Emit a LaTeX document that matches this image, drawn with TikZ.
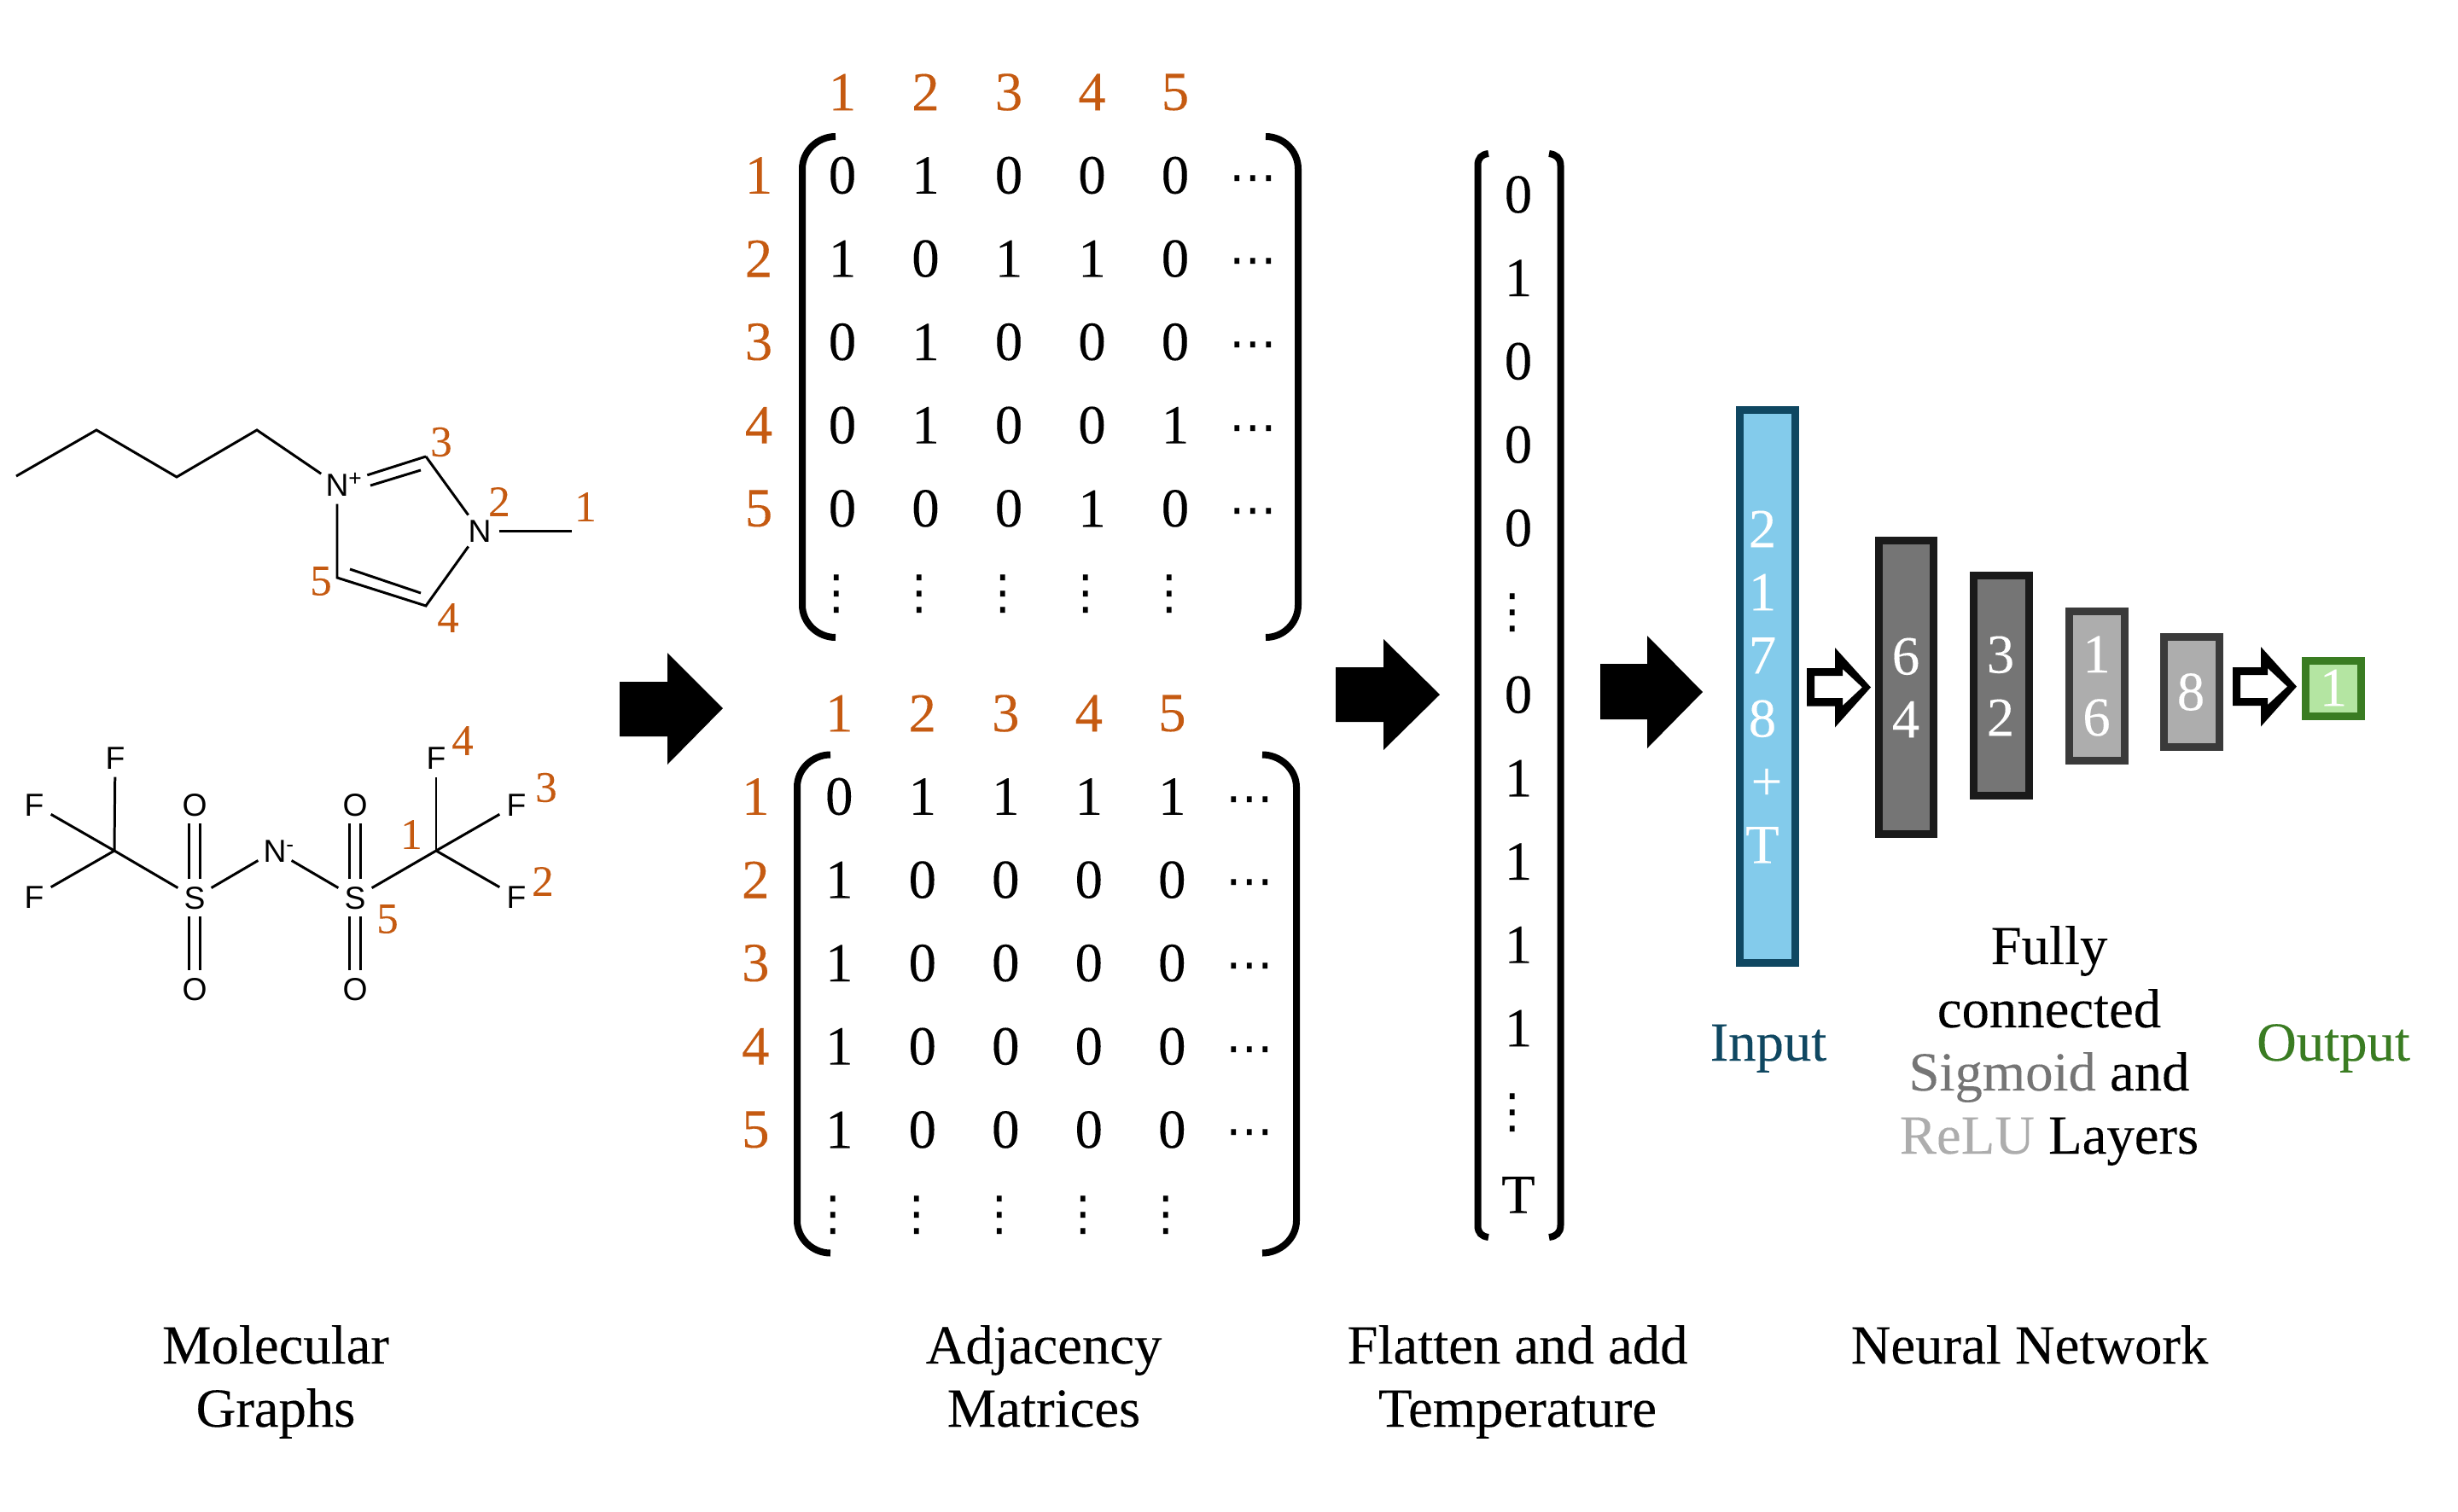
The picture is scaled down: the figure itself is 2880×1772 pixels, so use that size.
\documentclass[tikz,border=0pt]{standalone}
\usepackage{fontspec}
\setmainfont{Liberation Serif}[FakeBold=0.12]
\newfontfamily\atomfont{Liberation Sans}
\newfontfamily\dotfont{DejaVu Sans}
\definecolor{numor}{HTML}{C55A11}
\definecolor{inblue}{HTML}{0F4761}
\definecolor{infill}{HTML}{83CBEB}
\definecolor{outgreen}{HTML}{3A7C22}
\definecolor{outfill}{HTML}{B4E5A2}
\definecolor{sigfill}{HTML}{757575}
\definecolor{sigline}{HTML}{1A1A1A}
\definecolor{relufill}{HTML}{ADADAD}
\definecolor{reluline}{HTML}{3A3A3A}
\newcommand{\atomtxt}[1]{\smash{\makebox[0pt]{\raisebox{-0.358em}{#1}}}}
\tikzset{
  x=0.01cm,y=-0.01cm,
  big/.style={inner sep=0pt,font=\fontsize{18.4}{21.05}\selectfont},
  cell/.style={big,text=black},
  idx/.style={big,text=numor},
  small/.style={inner sep=0pt,text=numor,font=\fontsize{14.5}{16}\selectfont},
  atom/.style={circle,inner sep=0pt,minimum size=0.44cm,font=\atomfont\fontsize{10.6}{12}\selectfont},
  bond/.style={line width=0.85pt,draw=black},
  brack/.style={line width=0.08cm,draw=black},
  title/.style={big,align=center,anchor=base},
  nn/.style 2 args={rectangle,inner sep=0pt,fill=#1,draw=#2,line width=0.09cm},
  white num/.style={big,text=white,align=center},
  hdots/.style={inner sep=0pt,font=\dotfont\fontsize{15.8}{16}\selectfont},
  block/.style={fill=black},
}
\newcommand{\adjmat}[2]{%
  \foreach \c in {1,...,5}{
    \node[idx] (#1top\c) at ({987+97.5*(\c-1)},108) {\c};
    \node[idx] (#1left\c) at (889,{205.5+97.6*(\c-1)}) {\c};
    \node[hdots] (#1cd\c) at (1468,{216+97.6*(\c-1)}) {⋯};
    \node[hdots] (#1vd\c) at ({980+97.5*(\c-1)},696) {⋮};
  }
  \foreach \row [count=\r] in {#2}{
    \foreach \v [count=\c] in \row {
      \node[cell] (#1r\r c\c) at ({987+97.5*(\c-1)},{205.5+97.6*(\r-1)}) {\v};
    }
  }
}
% x of left stroke, x of its ends, x of right ends, x of right stroke, y top, y bottom
\newcommand{\matbrackets}[6]{%
  \draw[brack] (#2,#5) .. controls ({#2-21},#5) and (#1,{#5+17}) .. (#1,{#5+38}) -- (#1,{#6-38}) .. controls (#1,{#6-17}) and ({#2-21},#6) .. (#2,#6);
  \draw[brack] (#3,#5) .. controls ({#3+21},#5) and (#4,{#5+17}) .. (#4,{#5+38}) -- (#4,{#6-38}) .. controls (#4,{#6-17}) and ({#3+21},#6) .. (#3,#6);
}
\begin{document}
\begin{tikzpicture}
\useasboundingbox (0,0) rectangle (2880,1772);

% cation
\coordinate (a1) at (19,558);
\coordinate (a2) at (113,504);
\coordinate (a3) at (207,559);
\coordinate (a4) at (301,504);
\node[atom] (Np) at (395,568) {\atomtxt{N\rlap{\raisebox{0.32em}{\fontsize{7.5}{8}\selectfont +}}}};
\coordinate (c3) at (499,535);
\node[atom] (Nm) at (562,622) {\atomtxt{N}};
\coordinate (me) at (670,622);
\coordinate (c4) at (499,710);
\coordinate (c5) at (395,677);
\coordinate (i1) at (434,569);
\coordinate (i2) at (493,551);
\coordinate (i3) at (493,695);
\coordinate (i4) at (410,667);
\draw[bond,line join=miter] (a1) -- (a2) -- (a3) -- (a4) -- (Np);
\draw[bond,shorten <=0.37cm] (Np.center) -- (c3);
\draw[bond] (i1) -- (i2);
\draw[bond] (c3) -- (Nm);
\draw[bond] (Nm) -- (me);
\draw[bond] (Nm) -- (c4) -- (c5) -- (Np);
\draw[bond] (i3) -- (i4);
\node[small] (nc1) at (686,594) {1};
\node[small] (nc2) at (585,588) {2};
\node[small] (nc3) at (517,518) {3};
\node[small] (nc4) at (525,724) {4};
\node[small] (nc5) at (376,681) {5};

% anion
\node[atom] (Ft) at (135,888) {\atomtxt{F}};
\node[atom] (Fl) at (40,943) {\atomtxt{F}};
\node[atom] (Fb) at (40,1051) {\atomtxt{F}};
\coordinate (Cl) at (134,997);
\node[atom] (Sa) at (228,1052) {\atomtxt{S}};
\node[atom] (Oa) at (228,943) {\atomtxt{O}};
\node[atom] (Pa) at (228,1159) {\atomtxt{O}};
\node[atom] (Nn) at (322,997) {\atomtxt{N\rlap{\raisebox{0.32em}{\fontsize{7.5}{8}\selectfont -}}}};
\node[atom] (Sb) at (416,1052) {\atomtxt{S}};
\node[atom] (Ob) at (416,943) {\atomtxt{O}};
\node[atom] (Pb) at (416,1159) {\atomtxt{O}};
\coordinate (Cr) at (511,997);
\node[atom] (Gt) at (511,888) {\atomtxt{F}};
\node[atom] (Gu) at (605,943) {\atomtxt{F}};
\node[atom] (Gd) at (605,1051) {\atomtxt{F}};
\draw[bond] (Cl) -- (Ft);
\draw[bond] (Cl) -- (Fl);
\draw[bond] (Cl) -- (Fb);
\draw[bond] (Cl) -- (Sa);
\draw[bond] (Sa) -- (Nn);
\draw[bond] (Nn) -- (Sb);
\draw[bond] (Sb) -- (Cr);
\draw[bond] (Cr) -- (Gt);
\draw[bond] (Cr) -- (Gu);
\draw[bond] (Cr) -- (Gd);
\foreach \s/\o in {Sa/Oa,Sa/Pa,Sb/Ob,Sb/Pb}{
  \draw[bond,shorten <=0.22cm,shorten >=0.22cm] ([xshift=-0.065cm]\s.center) -- ([xshift=-0.065cm]\o.center);
  \draw[bond,shorten <=0.22cm,shorten >=0.22cm] ([xshift=0.065cm]\s.center) -- ([xshift=0.065cm]\o.center);
}
\node[small] (na1) at (482,978) {1};
\node[small] (na2) at (636,1033) {2};
\node[small] (na3) at (640,923) {3};
\node[small] (na4) at (542,868) {4};
\node[small] (na5) at (454,1077) {5};

% block arrows
\fill[block] (726,799) -- (782,799) -- (782,765) -- (847,830) -- (782,896) -- (782,863) -- (726,863) -- cycle;
\fill[block] (1565,782) -- (1621,782) -- (1621,749) -- (1687,814) -- (1621,879) -- (1621,846) -- (1565,846) -- cycle;
\fill[block] (1875,778) -- (1930,778) -- (1930,745) -- (1995,811) -- (1930,877) -- (1930,843) -- (1875,843) -- cycle;

% matrices
\adjmat{p}{{0,1,0,0,0},{1,0,1,1,0},{0,1,0,0,0},{0,1,0,0,1},{0,0,0,1,0}}
\matbrackets{940}{979}{1483}{1521}{160}{747}
\begin{scope}[shift={(-3.7,728)}]
\adjmat{q}{{0,1,1,1,1},{1,0,0,0,0},{1,0,0,0,0},{1,0,0,0,0},{1,0,0,0,0}}
\end{scope}
\matbrackets{934}{973}{1479}{1519}{884.5}{1468.5}

% flattened column
\foreach \i/\v in {0/0,1/1,2/0,3/0,4/0,6/0,7/1,8/1,9/1,10/1,12/T}{
  \node[cell] (f\i) at (1779,{228+97.7*\i}) {\v};
}
\foreach \i in {5,11}{
  \node[hdots] (f\i) at (1772,{230+97.7*\i}) {⋮};
}
\draw[brack] (1744,180) .. controls (1736,181) and (1731.5,185) .. (1731.5,194) -- (1731.5,1436) .. controls (1731.5,1445) and (1736,1449) .. (1744,1450);
\draw[brack] (1815,180) .. controls (1823,181) and (1828.5,185) .. (1828.5,194) -- (1828.5,1436) .. controls (1828.5,1445) and (1823,1449) .. (1815,1450);

% network
\node[nn={infill}{inblue},minimum width=0.65cm,minimum height=6.48cm] (inbox) at (2071,804.5) {};
\node[nn={sigfill}{sigline},minimum width=0.64cm,minimum height=3.44cm] (b64) at (2233.5,805.5) {};
\node[nn={sigfill}{sigline},minimum width=0.65cm,minimum height=2.58cm] (b32) at (2345,803.5) {};
\node[nn={relufill}{reluline},minimum width=0.65cm,minimum height=1.74cm] (b16) at (2457,804) {};
\node[nn={relufill}{reluline},minimum width=0.65cm,minimum height=1.29cm] (b8) at (2568,811) {};
\node[nn={outfill}{outgreen},minimum width=0.65cm,minimum height=0.65cm] (b1) at (2734,807) {};

\node[white num] (tin) at (2065,805) {2\\1\\7\\8\\\hspace*{0.1cm}+\\T};
\node[white num] (t64) at (2233,806) {6\\4};
\node[white num] (t32) at (2344,804) {3\\2};
\node[white num] (t16) at (2456.5,804) {1\\6};
\node[white num] (t8) at (2567,811) {8};
\node[white num] (t1) at (2734,806) {1};

\fill[block,even odd rule] (2117,783) -- (2150,783) -- (2150,759) -- (2192,805.5) -- (2150,852.5) -- (2150,827.5) -- (2117,827.5) -- cycle
  (2126,792) -- (2159,792) -- (2159,784) -- (2182,805.5) -- (2159,827) -- (2159,818) -- (2126,818) -- cycle;
\fill[block,even odd rule] (2616,782) -- (2649,782) -- (2649,758) -- (2691,804.6) -- (2649,851.5) -- (2649,827) -- (2616,827) -- cycle
  (2625,791) -- (2657,791) -- (2657,783) -- (2680,804.6) -- (2657,826) -- (2657,818) -- (2625,818) -- cycle;

% labels
\node[title,text=inblue] (linput) at (2072,1243) {Input};
\node[title,text=outgreen] (loutput) at (2734,1243) {Output};
\node[title] (lfully) at (2401,1352) {Fully\\connected\\\textcolor{sigfill}{Sigmoid} and\\\textcolor{relufill}{ReLU} Layers};
\node[title] (lmol) at (323,1672) {Molecular\\Graphs};
\node[title] (ladj) at (1223,1672) {Adjacency\\Matrices};
\node[title] (lflat) at (1778,1672) {Flatten and add\\Temperature};
\node[title] (lnn) at (2378,1598) {Neural Network};
\end{tikzpicture}
\end{document}
